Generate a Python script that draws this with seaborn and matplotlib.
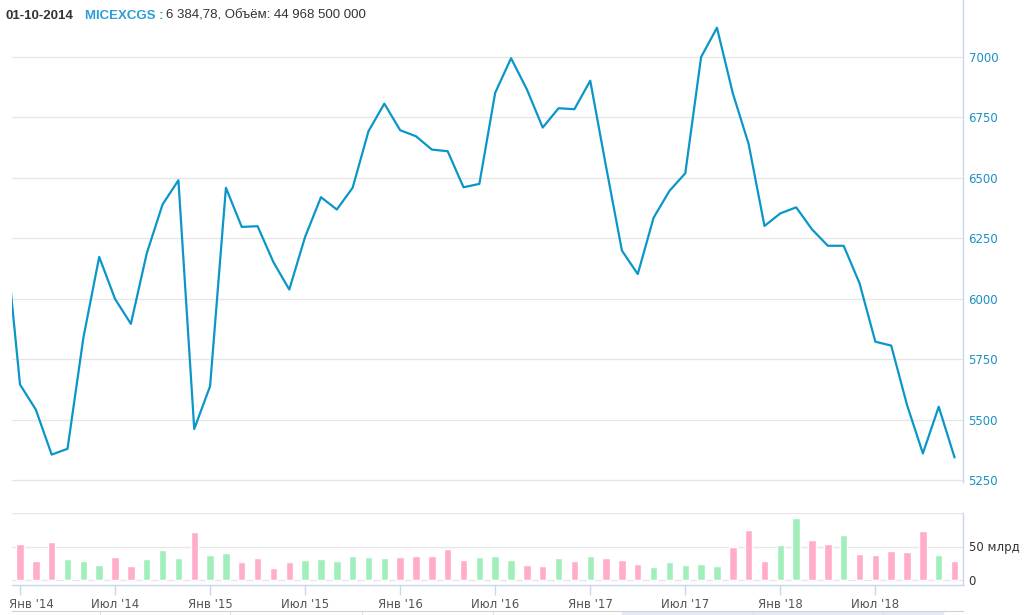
import numpy as np
import pandas as pd
import seaborn as sns
import matplotlib
matplotlib.use("Agg")
import matplotlib.pyplot as plt
from matplotlib.transforms import ScaledTranslation

# monthly closes, Dec '13 .. Dec '18 (index -1 .. 59)
close = [6310,
         5645, 5541, 5355, 5379, 5838, 6173, 5999, 5896, 6187, 6390, 6490, 5461,
         5638, 6459, 6297, 6300, 6151, 6038, 6256, 6420, 6369, 6459, 6693, 6807,
         6697, 6672, 6617, 6610, 6461, 6475, 6852, 6995, 6866, 6708, 6788, 6784,
         6902, 6546, 6199, 6102, 6335, 6446, 6519, 7000, 7121, 6850, 6640, 6301,
         6353, 6378, 6287, 6219, 6219, 6064, 5822, 5806, 5560, 5360, 5553, 5343]

# monthly volume, bn RUB, Jan '14 .. Dec '18
volume = [53, 27.8, 56, 31.3, 27.8, 22.7, 34.8, 21.2, 31.3, 44.4, 32.8, 71.2,
          37.9, 40.9, 26.3, 32.8, 17.7, 26.3, 29.8, 31.3, 27.8, 36.4, 34.8, 32.8,
          34.8, 36.4, 36.4, 46.5, 29.8, 34.8, 36.4, 29.8, 22.7, 21.2, 32.8, 27.8,
          36.4, 32.8, 29.3, 24.2, 19.7, 26.3, 22.7, 24.2, 21.2, 49.5, 74.2, 27.8,
          51.5, 92.4, 59.6, 53, 66.7, 39.4, 37.9, 42.9, 41.4, 72.7, 37.9, 27.8]

# d = down (pink), u = up (green), one per month
direction = list("ddduuudduuud" "uudddduuuuuu" "ddddduuuddud" "uddduuuuuddd" "uuddudddddud")

months = ["Янв", "Июл"]
years = ["'14", "'15", "'16", "'17", "'18"]
tick_labels = [f"{m} {y}" for y in years for m in months]

line_df = pd.DataFrame({"m": np.arange(-1, len(close) - 1), "close": close})
bar_df = pd.DataFrame({"m": np.arange(len(volume)), "vol": volume, "dir": direction})

sns.set_style("white")
plt.rcParams["font.family"] = ["DejaVu Sans"]

W, H = 1027, 615
fig = plt.figure(figsize=(W / 100, H / 100), dpi=100)

def px_axes(x0, y0, x1, y1):
    return fig.add_axes([x0 / W, 1 - y1 / H, (x1 - x0) / W, (y1 - y0) / H])

axis_col = "#ccd6eb"
grid_col = "#e6e6e6"
blue = "#0b96c9"
xmin, xmax = (12 - 20) / 15.84, (963 - 20) / 15.84

# main price panel
ax = px_axes(12, 0, 963, 482)
sns.lineplot(data=line_df, x="m", y="close", ax=ax, color=blue, linewidth=1.6)
ax.set_xlim(xmin, xmax)
ax.set_ylim(7000 - (482 - 57) / 0.2417, 7000 + 57 / 0.2417)
ax.set_yticks([5250, 5500, 5750, 6000, 6250, 6500, 6750, 7000])
ax.yaxis.tick_right()
ax.tick_params(axis="y", length=0, pad=4, labelsize=8.5, labelcolor="#1a8fc4")
ax.set_xticks([])
ax.set_xlabel("")
ax.set_ylabel("")
ax.grid(axis="y", color=grid_col, linewidth=0.9)
for s in ["left", "top", "bottom"]:
    ax.spines[s].set_visible(False)
ax.spines["right"].set_color(axis_col)
ax.spines["right"].set_linewidth(1)

# volume panel
axv = px_axes(12, 513, 963, 585)
sns.barplot(data=bar_df, x="m", y="vol", hue="dir", native_scale=True, dodge=False,
            palette={"d": "#ffadc9", "u": "#a1eebb"}, saturation=1, width=0.47,
            legend=False, ax=axv)
axv.set_xlim(xmin, xmax)
axv.set_ylim(-5 / 0.67, 100)
axv.set_yticks([0, 50, 100])
axv.set_yticklabels(["0", "50 млрд", ""])
axv.yaxis.tick_right()
axv.tick_params(axis="y", length=0, pad=4, labelsize=8.5, labelcolor="#333333")
axv.set_xticks(np.arange(0, 60, 6))
axv.set_xticklabels(tick_labels)
axv.tick_params(axis="x", length=7, width=1, color=axis_col, pad=2, labelsize=8.5,
                labelcolor="#555555", bottom=True)
axv.set_xlabel("")
axv.set_ylabel("")
axv.grid(axis="y", color=grid_col, linewidth=0.9)
for s in ["left", "top"]:
    axv.spines[s].set_visible(False)
for s in ["right", "bottom"]:
    axv.spines[s].set_color(axis_col)
    axv.spines[s].set_linewidth(1)
first = axv.get_xticklabels()[0]
first.set_transform(first.get_transform() + ScaledTranslation(11 / 100, 0, fig.dpi_scale_trans))

# navigator strip at the bottom
axn = px_axes(12, 611, 963, 615)
axn.set_xlim(12, 963)
axn.set_ylim(0, 1)
axn.axvspan(622, 943, color="#e4e9f3")
for xv in [100, 230, 362, 493, 753, 883]:
    axn.axvline(xv, color="#d8dde6", linewidth=0.8)
axn.set_xticks([])
axn.set_yticks([])
for s in ["left", "right", "bottom"]:
    axn.spines[s].set_visible(False)
axn.spines["top"].set_color("#d0d0d0")

# header
fig.text(6 / W, 1 - 16 / H, "01-10-2014", fontsize=9.5, fontweight="bold", color="#333333",
         family="Liberation Sans", va="center")
fig.text(85 / W, 1 - 16 / H, "MICEXCGS :", fontsize=9.5, fontweight="bold", color="#2a9fd6",
         family="Liberation Sans", va="center")
fig.text(166 / W, 1 - 16 / H, "6 384,78, Объём: 44 968 500 000", fontsize=9.5, color="#333333",
         family="Liberation Sans", va="center")

plt.savefig("out.png", dpi=100)
